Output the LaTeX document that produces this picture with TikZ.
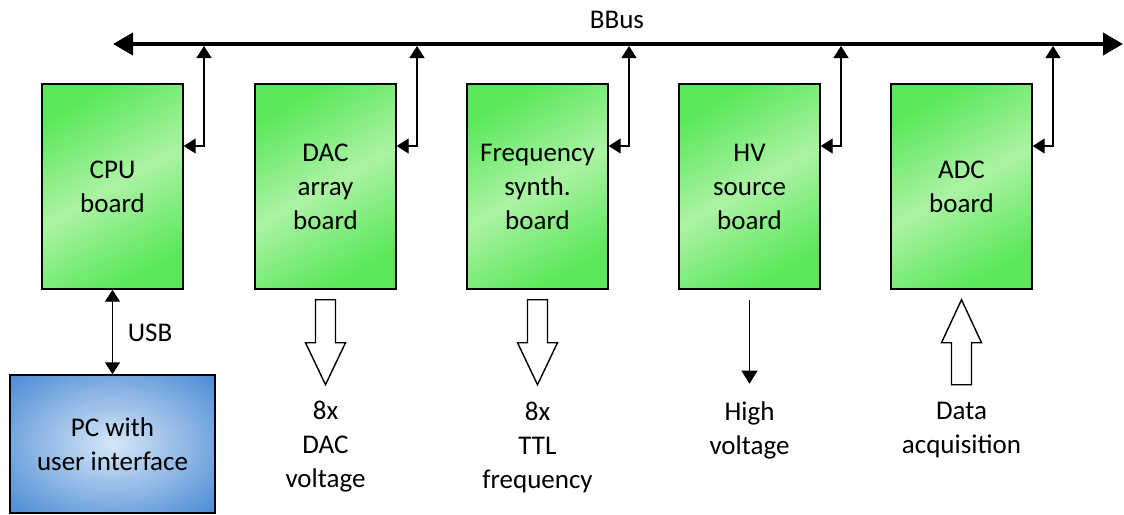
\documentclass[tikz,border=0pt]{standalone}
\usepackage{fontspec}
\setmainfont{Carlito}
\usetikzlibrary{arrows.meta, calc, positioning}

\definecolor{boardgreen}{RGB}{90,232,90}
\definecolor{boardlight}{RGB}{172,242,164}
\definecolor{pcblue}{RGB}{80,142,214}
\definecolor{pcdark}{RGB}{66,128,204}
\definecolor{pclight}{RGB}{214,230,247}

\pgfdeclareradialshading{pcshade}{\pgfpoint{0bp}{0bp}}{color(0bp)=(pclight); color(34bp)=(pcblue); color(50bp)=(pcdark)}

\tikzset{
	board/.style={draw=black, line width=0.7pt, minimum width=70.5pt, minimum height=102.5pt,
		align=center, inner sep=0pt, top color=boardgreen, bottom color=boardgreen,
		middle color=boardlight, shading angle=30},
	pcbox/.style={draw=black, line width=0.7pt, minimum width=102.5pt, minimum height=69pt,
		align=center, inner sep=0pt, shading=pcshade},
	bus/.style={line width=2pt, {Triangle[length=10pt,width=11pt]}-{Triangle[length=10pt,width=11pt]}},
	tap/.style={line width=0.7pt, {Triangle[length=6pt,width=7.5pt]}-{Triangle[length=6pt,width=7.5pt]}},
	wire/.style={line width=0.6pt, -{Triangle[length=6.5pt,width=8pt]}},
	hollow/.style={draw=black, line width=0.7pt, fill=white},
	txt/.style={align=center, inner sep=0pt}
}

\begin{document}
\begin{tikzpicture}[x=0.5pt, y=-0.5pt, every node/.style={font=\fontsize{13.5pt}{17pt}\selectfont}]
	\useasboundingbox (0,0) rectangle (1124,514);

	% bus
	\coordinate (busL) at (113,44);
	\coordinate (busR) at (1123,44);
	\coordinate (busbot) at (0,46);
	\draw[bus] (busL) -- (busR);
	\node[txt] (bbus) at (617,20) {BBus};

	% boards
	\node[board] (cpu) at (112.5,186.5) {CPU\\board};
	\node[board] (dac) at (325.5,186.5) {DAC\\array\\board};
	\node[board] (freq) at (537.5,186.5) {Frequency\\synth.\\board};
	\node[board] (hv) at (749.5,186.5) {HV\\source\\board};
	\node[board] (adc) at (961.5,186.5) {ADC\\board};

	% bus taps
	\coordinate (tcpu) at (204,146);
	\coordinate (tdac) at (417,146);
	\coordinate (tfreq) at (629,146);
	\coordinate (thv) at (841,146);
	\coordinate (tadc) at (1053,146);
	\draw[tap] (cpu.east |- tcpu) -| (tcpu |- busbot);
	\draw[tap] (dac.east |- tdac) -| (tdac |- busbot);
	\draw[tap] (freq.east |- tfreq) -| (tfreq |- busbot);
	\draw[tap] (hv.east |- thv) -| (thv |- busbot);
	\draw[tap] (adc.east |- tadc) -| (tadc |- busbot);

	% PC
	\node[pcbox] (pc) at (112.5,444) {PC with\\user interface};
	\draw[tap] (cpu.south) -- (pc.north);
	\node[txt] (usb) at (150,333) {USB};

	% outputs
	\begin{scope}[shift={(dac.south)}]
		\draw[hollow] (-10,10) -- (10,10) -- (10,53) -- (20,53) -- (0,95) -- (-20,53) -- (-10,53) -- cycle;
	\end{scope}
	\begin{scope}[shift={(freq.south)}]
		\draw[hollow] (-10,10) -- (10,10) -- (10,53) -- (20,53) -- (0,95) -- (-20,53) -- (-10,53) -- cycle;
	\end{scope}
	\draw[wire] ($(hv.south)+(0,10)$) -- ($(hv.south)+(0,94)$);
	\begin{scope}[shift={(adc.south)}]
		\draw[hollow] (-10,95) -- (10,95) -- (10,53) -- (20,53) -- (0,10) -- (-20,53) -- (-10,53) -- cycle;
	\end{scope}

	\node[txt] (daclbl) at (325.5,447) {8x\\DAC\\voltage};
	\node[txt] (freqlbl) at (537.5,447) {8x\\TTL\\frequency};
	\node[txt] (hvlbl) at (749.5,430) {High\\voltage};
	\node[txt] (adclbl) at (961.5,430) {Data\\acquisition};
\end{tikzpicture}
\end{document}
